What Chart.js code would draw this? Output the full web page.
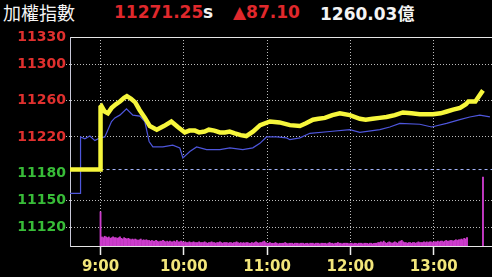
<!DOCTYPE html>
<html>
<head>
<meta charset="utf-8">
<script src="https://cdn.jsdelivr.net/npm/chart.js@4.4.1/dist/chart.umd.min.js"></script>
<style>
  html, body { margin:0; padding:0; background:#000; }
  #wrap { position:relative; width:492px; height:277px; overflow:hidden; background:#000; }
  #hdr span { position:absolute; top:0; line-height:25px; white-space:nowrap; }
  .t { font-family:"Noto Sans CJK TC", sans-serif; font-size:18px; color:#f4f4f4; }
  .n { font-family:"DejaVu Sans", sans-serif; font-weight:bold; font-size:17px; }
  .r { color:#e0282c; }
  .w { color:#f4f4f4; }
  #c { position:absolute; left:0; top:0; }
</style>
</head>
<body>
<div id="wrap">
  <div id="hdr">
    <span class="t" style="left:3px">加權指數</span>
    <span class="n r" style="left:114px">11271.25</span>
    <span class="n w" style="left:203px">s</span>
    <span class="n r" style="left:233px">▲87.10</span>
    <span class="n w" style="left:320px">1260.03<span class="t" style="position:static;font-size:17px">億</span></span>
  </div>
  <canvas id="c" width="492" height="277"></canvas>
</div>
<script>
// valeurs (minutes depuis 9:00)
const prevClose = 11184.15;
const yTicks = [11330, 11300, 11260, 11220, 11180, 11150, 11120];
const hourTicks = [0, 60, 120, 180, 240];
const hourLabels = ['9:00', '10:00', '11:00', '12:00', '13:00'];

// indice (ligne jaune)
const idxMin = [-22, 0, 0, 0.7, 3, 5.3, 8, 11, 14, 17,
  19, 22, 25, 28, 32, 35.5, 40.5, 45.6, 51, 55.7,
  60.7, 64, 68, 71, 75, 78, 82, 86, 89.6, 93,
  96.8, 101, 105, 110, 115, 122, 129, 136.4, 143.6, 148,
  153, 157, 161.6, 167, 172.4, 179.6, 186.8, 191, 196, 201,
  206, 212, 217.8, 224, 230, 239.4, 245, 249.5, 254, 259,
  263.2, 265, 270, 275.5];
const idxVal = [11184.15, 11184.15, 11253, 11254, 11248, 11246, 11252, 11256, 11259, 11263,
  11265, 11262, 11258, 11250, 11241, 11232, 11228, 11232, 11237, 11231,
  11225, 11227, 11227, 11225, 11226, 11228, 11227, 11225, 11225, 11226,
  11224, 11222, 11221, 11226, 11233, 11237, 11236, 11233, 11232, 11235,
  11239, 11240, 11241, 11244, 11246, 11244, 11240, 11239, 11240, 11241,
  11242, 11244, 11247, 11246, 11245, 11245, 11246, 11248, 11250, 11252,
  11256, 11259, 11259, 11271.25];

// ligne bleue
const avgMin = [-22, -14.4, -14.4, -11.3, -7.7, -4.1, -0.5, 3.1, 7.9, 10.3,
  13.9, 18.7, 23.3, 28.3, 31.9, 35, 37.7, 44.9, 52, 57.1,
  59.3, 64.3, 69.2, 76.4, 86, 93.2, 102.5, 109.7, 114.8, 119.6,
  126.8, 134, 136.4, 143.6, 150.8, 165.2, 179.6, 186.8, 201.2, 208.4,
  215.6, 230, 238.5, 249.3, 258.8, 266, 273.2, 280.5];
const avgVal = [11158, 11158, 11220, 11218, 11221, 11216, 11219, 11220, 11237, 11241,
  11244, 11251, 11244, 11243, 11237, 11215, 11209, 11209, 11211, 11208,
  11197, 11204, 11209, 11206, 11206, 11208, 11206, 11208, 11213, 11220,
  11220, 11219, 11217, 11219, 11224, 11226, 11228, 11225, 11228, 11231,
  11235, 11234, 11231, 11235, 11239, 11242, 11244, 11242];

// volume par minute (億), minutes 0..264, puis l'enchere de cloture
const volPerMin = [49,
  13, 12, 14, 13, 12, 13, 11, 12, 13, 12,
  12, 11, 12, 13, 11, 10, 12, 11, 10, 11,
  10, 9, 10, 9, 10, 9, 8, 9, 10, 8, 9, 8, 9, 8, 8,
  7, 8, 7, 7, 8, 7, 6, 7, 7, 8, 7, 6, 7, 6, 7, 6, 6, 7, 6, 8, 6, 6, 7, 6, 5,
  6, 5, 5, 6, 5, 5, 6, 5, 5, 5, 6, 5, 5, 5, 6, 5, 4, 5, 5, 6,
  5, 5, 4, 5, 5, 6, 5, 4, 5, 5, 5, 4, 5, 5, 4, 5, 5, 6, 5, 4,
  5, 4, 5, 4, 5, 5, 4, 4, 5, 4, 5, 6, 5, 4, 5, 5, 6, 7, 5, 4,
  4, 5, 4, 4, 4, 5, 4, 3, 4, 4, 4, 4, 5, 4, 3, 4, 4, 4, 3, 4,
  4, 4, 3, 4, 4, 4, 3, 4, 4, 3, 4, 4, 4, 3, 4, 4, 4, 3, 4, 4,
  4, 4, 3, 4, 5, 4, 4, 3, 4, 4, 5, 4, 4, 3, 4, 4, 4, 4, 3, 4,
  4, 3, 4, 4, 3, 4, 4, 4, 3, 4, 4, 4, 3, 4, 4, 3, 4, 4, 4, 5,
  5, 6, 5, 7, 5, 4, 5, 6, 5, 4, 5, 6, 5, 4, 6, 7, 8, 6, 5, 5,
  4, 5, 5, 4, 5, 5, 4, 5, 6, 5, 5, 5, 6, 5, 6, 5, 6, 6, 5, 6,
  6, 6, 7, 6, 7, 7, 6, 7, 8, 7, 7, 8, 8, 7, 8, 9, 8, 9, 9, 10, 9, 11, 10, 12];
const closeMin = 275.5;
const closeVol = 99;

function pts(xs, ys) {
  return xs.map(function(x, i) { return { x: x, y: ys[i] }; });
}

function buildConfig() {
  const volPts = volPerMin.map(function(v, i) { return { x: i, y: v }; });
  volPts.push({ x: closeMin, y: closeVol });
  const gridCol = '#bcbcbc';
  return {
    type: 'line',
    data: {
      datasets: [
        { label: '指數', data: pts(idxMin, idxVal), borderColor: '#f6f63c', borderWidth: 4.5,
          pointRadius: 0, tension: 0, borderJoinStyle: 'miter', order: 0 },
        { label: '均價', data: pts(avgMin, avgVal), borderColor: '#4e56dc', borderWidth: 1.2,
          pointRadius: 0, tension: 0, order: 1 },
        { label: '昨收', data: [{ x: 0, y: prevClose }, { x: 282, y: prevClose }], borderColor: '#a8b8ff',
          borderWidth: 1, borderDash: [3, 3], pointRadius: 0, order: 2 },
        { type: 'bar', label: '量', data: volPts, backgroundColor: '#cc3ccc', barThickness: 1.2,
          yAxisID: 'y2', order: 3 }
      ]
    },
    options: {
      responsive: false, animation: false, devicePixelRatio: 1,
      layout: { padding: { top: 37, left: 0, right: 0, bottom: 0 } },
      plugins: { legend: { display: false }, tooltip: { enabled: false } },
      scales: {
        x: {
          type: 'linear', min: -22, max: 282, offset: false, bounds: 'data',
          afterBuildTicks: function(s) { s.ticks = hourTicks.map(function(v) { return { value: v }; }); },
          afterFit: function(s) { s.height = 31; },
          grid: { color: gridCol, tickColor: '#f0f0f0', tickLength: 9, tickWidth: 1.5, offset: false },
          border: { color: '#e6e6e6', dash: [1, 2] },
          ticks: { autoSkip: false, maxRotation: 0, padding: 3, color: '#f2e67a',
            font: { family: 'DejaVu Sans', weight: 'bold', size: 15 },
            callback: function(v, i) { return hourLabels[i]; } }
        },
        xTop: {
          type: 'linear', position: 'top', min: -22, max: 282,
          grid: { display: false, drawTicks: false }, ticks: { display: false },
          border: { display: true, color: '#e6e6e6' },
          afterFit: function(s) { s.height = 0; }
        },
        y: {
          type: 'linear', position: 'left', min: 11100, max: 11330, bounds: 'data',
          afterBuildTicks: function(s) { s.ticks = yTicks.map(function(v) { return { value: v }; }); },
          afterFit: function(s) { s.width = 70; },
          grid: {
            color: function(ctx) {
              const v = ctx.tick ? ctx.tick.value : 0;
              return (v === 11330 || v === 11180) ? 'rgba(0,0,0,0)' : gridCol;
            },
            tickLength: 4, tickBorderDash: [1, 2]
          },
          border: { color: '#c8c8d8', dash: [1, 2] },
          ticks: { autoSkip: false, padding: 0,
            font: { family: 'DejaVu Sans', weight: 'bold', size: 14 },
            color: function(ctx) { return ctx.tick.value > prevClose ? '#e0302e' : '#38bc38'; },
            callback: function(v) { return String(v); } }
        },
        y2: { type: 'linear', display: false, min: 0, max: 300 }
      }
    }
  };
}

new Chart(document.getElementById('c').getContext('2d'), buildConfig());
</script>
</body>
</html>
